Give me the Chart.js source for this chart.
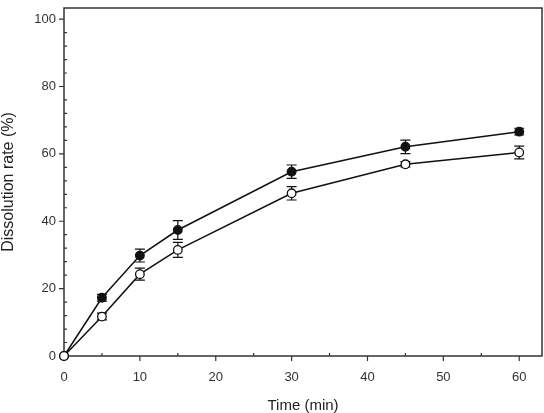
<!DOCTYPE html>
<html>
<head>
<meta charset="utf-8">
<script src="https://cdn.jsdelivr.net/npm/chart.js@4/dist/chart.umd.min.js"></script>
<style>
  html, body { margin: 0; padding: 0; background: #fff; }
  #wrap { width: 544px; height: 413px; }
</style>
</head>
<body>
<div id="wrap"><canvas id="chart" width="544" height="413"></canvas></div>
<script>
// Datos
const times = [0, 5, 10, 15, 30, 45, 60];
const filledValues = [0, 17.3, 29.8, 37.4, 54.7, 62.1, 66.6];
const filledErrors = [0, 1.0, 1.9, 2.8, 2.0, 2.0, 1.0];
const openValues = [0, 11.7, 24.3, 31.5, 48.3, 56.9, 60.4];
const openErrors = [0, 1.0, 1.8, 2.2, 2.0, 0.8, 1.9];
const xTicks = [0, 10, 20, 30, 40, 50, 60];
const xMinorTicks = [5, 15, 25, 35, 45, 55];
const yTicks = [0, 20, 40, 60, 80, 100];
const yMinorTicks = [4, 8, 12, 16, 24, 28, 32, 36, 44, 48, 52, 56, 64, 68, 72, 76, 84, 88, 92, 96];

const toPoints = (vals) => times.map((t, i) => ({ x: t, y: vals[i] }));

// Barras de error
const errorBars = {
  id: "errorBars",
  beforeDatasetsDraw(chart) {
    const { ctx, scales } = chart;
    const sets = [
      [filledValues, filledErrors],
      [openValues, openErrors],
    ];
    ctx.save();
    ctx.strokeStyle = "#111";
    ctx.lineWidth = 1.2;
    sets.forEach(([vals, errs]) => {
      times.forEach((t, i) => {
        if (!errs[i]) return;
        const x = scales.x.getPixelForValue(t);
        const y1 = scales.y.getPixelForValue(vals[i] + errs[i]);
        const y2 = scales.y.getPixelForValue(vals[i] - errs[i]);
        ctx.beginPath();
        ctx.moveTo(x, y1);
        ctx.lineTo(x, y2);
        ctx.moveTo(x - 5, y1);
        ctx.lineTo(x + 5, y1);
        ctx.moveTo(x - 5, y2);
        ctx.lineTo(x + 5, y2);
        ctx.stroke();
      });
    });
    ctx.restore();
  },
};

// Marco y marcas de los ejes
const frameTicks = {
  id: "frameTicks",
  beforeDatasetsDraw(chart) {
    const { ctx, chartArea: a, scales } = chart;
    ctx.save();
    ctx.strokeStyle = "#333";
    ctx.lineWidth = 1.5;
    ctx.strokeRect(a.left, a.top, a.right - a.left, a.bottom - a.top);
    ctx.lineWidth = 1.2;
    ctx.beginPath();
    yTicks.forEach((v) => {
      const y = scales.y.getPixelForValue(v);
      ctx.moveTo(a.left - 5, y);
      ctx.lineTo(a.left, y);
    });
    yMinorTicks.forEach((v) => {
      const y = scales.y.getPixelForValue(v);
      ctx.moveTo(a.left, y);
      ctx.lineTo(a.left + 3, y);
    });
    xTicks.forEach((v) => {
      const x = scales.x.getPixelForValue(v);
      ctx.moveTo(x, a.bottom);
      ctx.lineTo(x, a.bottom + 5);
    });
    xMinorTicks.forEach((v) => {
      const x = scales.x.getPixelForValue(v);
      ctx.moveTo(x, a.bottom);
      ctx.lineTo(x, a.bottom - 3);
    });
    ctx.stroke();
    ctx.restore();
  },
};

new Chart(document.getElementById("chart").getContext("2d"), {
  type: "scatter",
  data: {
    datasets: [
      {
        label: "open",
        data: toPoints(openValues),
        showLine: true,
        clip: false,
        borderColor: "#111",
        borderWidth: 1.5,
        pointRadius: 4.3,
        pointBackgroundColor: "#fff",
        pointBorderColor: "#111",
        pointBorderWidth: 1.3,
      },
      {
        label: "filled",
        data: toPoints(filledValues),
        showLine: true,
        clip: false,
        borderColor: "#111",
        borderWidth: 1.5,
        pointRadius: 4.3,
        pointBackgroundColor: "#111",
        pointBorderColor: "#111",
        pointBorderWidth: 1.3,
      },
    ],
  },
  options: {
    responsive: false,
    animation: false,
    layout: { autoPadding: false, padding: { top: 8, right: 2, left: 0, bottom: 0 } },
    plugins: { legend: { display: false }, tooltip: { enabled: false } },
    scales: {
      x: {
        type: "linear",
        min: 0,
        max: 63,
        afterFit: (s) => {
          s.height = 57;
          s.paddingLeft = 0;
          s.paddingRight = 0;
        },
        afterBuildTicks: (s) => { s.ticks = xTicks.map((v) => ({ value: v })); },
        grid: { display: false, drawTicks: true, tickLength: 0 },
        border: { display: false },
        ticks: {
          padding: 14,
          color: "#333",
          font: { family: "Liberation Sans, Arial", size: 13 },
        },
        title: {
          display: true,
          text: "Time (min)",
          color: "#222",
          padding: 0,
          font: { family: "Liberation Sans, Arial", size: 15, lineHeight: 1 },
        },
      },
      y: {
        type: "linear",
        min: 0,
        max: 103.3,
        afterFit: (s) => {
          s.width = 64;
          s.paddingTop = 0;
          s.paddingBottom = 0;
        },
        afterBuildTicks: (s) => { s.ticks = yTicks.map((v) => ({ value: v })); },
        grid: { display: false, drawTicks: true, tickLength: 0 },
        border: { display: false },
        ticks: {
          padding: 8,
          color: "#333",
          font: { family: "Liberation Sans, Arial", size: 13 },
        },
        title: {
          display: true,
          text: "Dissolution rate (%)",
          color: "#222",
          padding: { top: 1, bottom: 0 },
          font: { family: "Liberation Sans, Arial", size: 16, lineHeight: 1 },
        },
      },
    },
  },
  plugins: [frameTicks, errorBars],
});
</script>
</body>
</html>
